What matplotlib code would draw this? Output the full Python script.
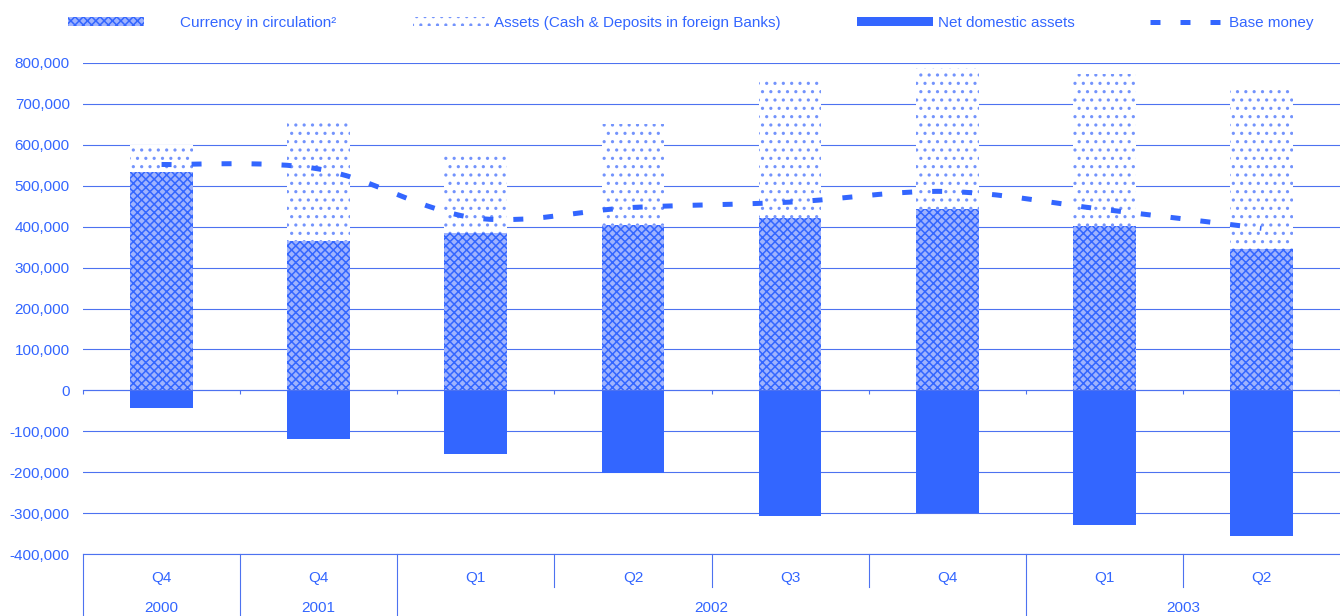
import matplotlib
matplotlib.use("Agg")
import matplotlib.pyplot as plt
import numpy as np
from matplotlib.path import Path
from matplotlib.patches import PathPatch
from matplotlib.lines import Line2D

# chart values
quarters = ["Q4", "Q4", "Q1", "Q2", "Q3", "Q4", "Q1", "Q2"]
years = ["2000", "2001", "2002", "2002", "2002", "2002", "2003", "2003"]
currency = [534000, 365000, 384000, 403000, 420000, 442000, 401000, 345000]
assets = [66000, 295000, 195000, 248000, 347000, 347000, 373000, 398000]
net_domestic = [-44000, -120000, -156000, -203000, -306000, -299000, -328000, -355000]
base_money = [552000, 541000, 421000, 447000, 460000, 486000, 442000, 396000]

BLUE = "#3366FF"
GRID = "#4d72f0"

plt.rcParams["font.family"] = ["Liberation Sans", "DejaVu Sans"]
plt.rcParams["hatch.linewidth"] = 1.1

fig = plt.figure(figsize=(13.4, 6.16), dpi=100)
ax = fig.add_axes([83 / 1340, 62 / 616, 1 - 83 / 1340, 491 / 616])

x = np.arange(len(quarters))
w = 0.4
b_cur = ax.bar(x, currency, w, color="#9fb3fd", edgecolor=BLUE, hatch="xxxx", linewidth=0, zorder=2)
b_ass = ax.bar(x, assets, w, bottom=currency, color="white", edgecolor="#7393fc", hatch="..",
               linewidth=0, zorder=2)
b_net = ax.bar(x, net_domestic, w, color=BLUE, linewidth=0, zorder=2)

# smoothed base money line (bezier through the points)
pts = np.column_stack([x, base_money]).astype(float)
verts = [pts[0]]
codes = [Path.MOVETO]
n = len(pts)
for i in range(n - 1):
    p0 = pts[max(i - 1, 0)]
    p1 = pts[i]
    p2 = pts[i + 1]
    p3 = pts[min(i + 2, n - 1)]
    verts += [p1 + (p2 - p0) / 6, p2 - (p3 - p1) / 6, p2]
    codes += [Path.CURVE4] * 3
ax.add_patch(PathPatch(Path(verts, codes), fill=False, edgecolor=BLUE, linewidth=3.6,
                       linestyle=(0, (2, 4)), capstyle="butt", zorder=3))

ax.set_xlim(-0.5, len(quarters) - 0.5)
ax.set_ylim(-400000, 800000)
ax.set_yticks(np.arange(-400000, 800001, 100000))
ax.yaxis.set_major_formatter(matplotlib.ticker.FuncFormatter(lambda v, p: "{:,.0f}".format(v)))
ax.tick_params(axis="y", length=0, pad=9.5, labelsize=11, labelcolor=BLUE)
ax.grid(axis="y", color=GRID, linewidth=0.8, zorder=0)
ax.set_axisbelow(True)
ax.axhline(ax.get_ylim()[0], color=GRID, linewidth=0.8, clip_on=False, zorder=0)

for s in ["top", "right", "left"]:
    ax.spines[s].set_visible(False)
ax.spines["bottom"].set_position(("data", 0))
ax.spines["bottom"].set_color(GRID)
ax.spines["bottom"].set_linewidth(0.8)
ax.set_xticks(np.arange(-0.5, len(quarters), 1.0))
ax.set_xticklabels([])
ax.tick_params(axis="x", length=3, width=0.8, color=GRID, direction="out")

# two-level category axis below the plot
trans = ax.get_xaxis_transform()
for i, q in enumerate(quarters):
    ax.text(i, -0.048, q, transform=trans, ha="center", va="center", fontsize=11, color=BLUE)
    depth = -0.13 if (i == 0 or years[i] != years[i - 1]) else -0.068
    ax.plot([i - 0.5, i - 0.5], [0, depth], transform=trans, color=GRID, lw=0.8, clip_on=False)
start = 0
for i in range(1, len(years) + 1):
    if i == len(years) or years[i] != years[start]:
        ax.text((start + i - 1) / 2, -0.109, years[start], transform=trans, ha="center", va="center",
                fontsize=11, color=BLUE)
        start = i

# legend entries spread across the top
legend_items = [
    (b_cur, "Currency in circulation²", 68, 5.0, 2.3),
    (b_ass, "Assets (Cash & Deposits in foreign Banks)", 413, 5.0, 0.3),
    (b_net, "Net domestic assets", 857, 5.0, 0.3),
    (Line2D([], [], color=BLUE, lw=3.6, linestyle=(0, (2, 4)), dash_capstyle="butt"),
     "Base money", 1150, 4.7, 0.5),
]
for handle, label, px, hl, tp in legend_items:
    fig.legend([handle], [label], loc="center left", bbox_to_anchor=(px / 1340, 1 - 23 / 616),
               frameon=False, fontsize=11, labelcolor=BLUE, handlelength=hl, handleheight=0.55,
               handletextpad=tp, borderpad=0, borderaxespad=0)

fig.savefig("out.png", dpi=100)
